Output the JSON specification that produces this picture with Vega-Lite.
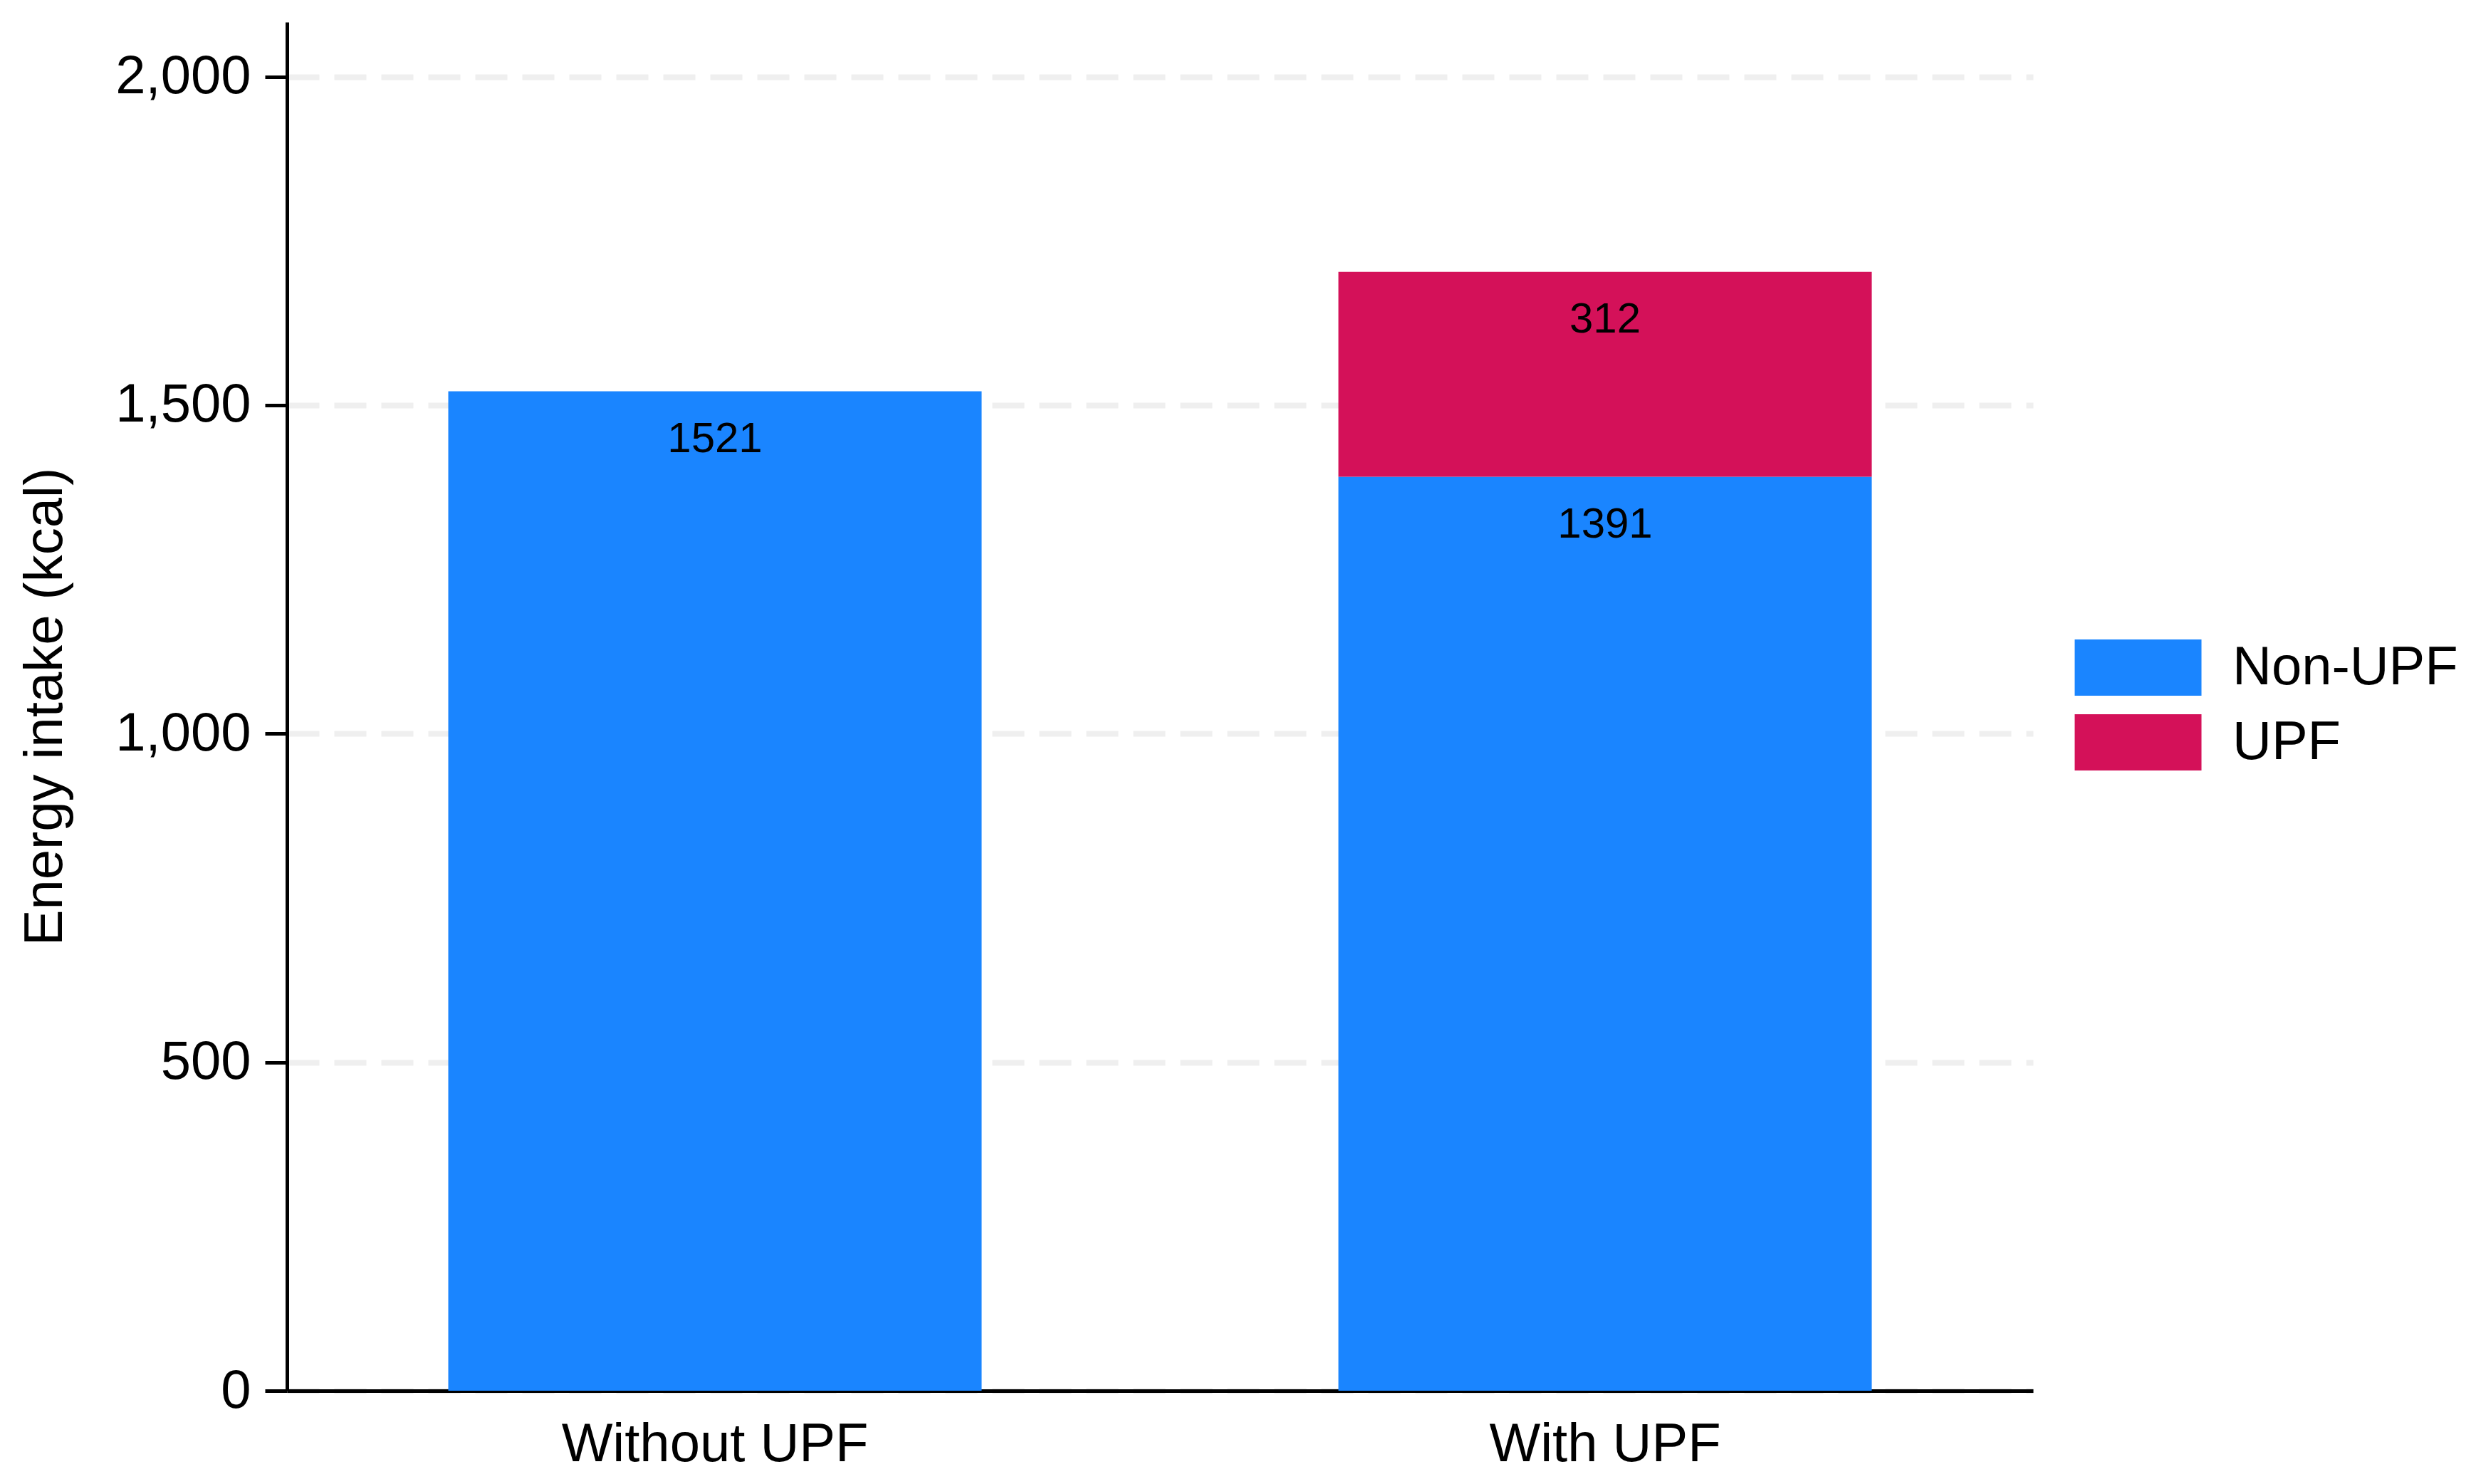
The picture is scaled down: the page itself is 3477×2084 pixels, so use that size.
{
  "$schema": "https://vega.github.io/schema/vega-lite/v6.json",
  "width": 2452,
  "height": 1922,
  "autosize": {"type": "none"},
  "padding": {"left": 403, "top": 31, "right": 622, "bottom": 131},
  "background": "white",
  "config": {
    "view": {"stroke": null},
    "font": "Liberation Sans",
    "axis": {"domainColor": "black", "tickColor": "black", "labelColor": "black", "titleColor": "black", "labelFont": "Liberation Sans", "titleFont": "Liberation Sans", "titleFontWeight": "normal", "labelLimit": 1000}
  },
  "data": {
    "values": [
      {"group": "Without UPF", "component": "Non-UPF", "kcal": 1521},
      {"group": "With UPF", "component": "Non-UPF", "kcal": 1391},
      {"group": "With UPF", "component": "UPF", "kcal": 312}
    ]
  },
  "transform": [
    {"stack": "kcal", "groupby": ["group"], "sort": [{"field": "component", "order": "ascending"}], "as": ["y0", "y1"]}
  ],
  "encoding": {
    "x": {
      "field": "group",
      "type": "nominal",
      "sort": ["Without UPF", "With UPF"],
      "scale": {"paddingInner": 0.4008, "paddingOuter": 0.1812},
      "axis": {
        "title": null,
        "labelAngle": 0,
        "labelFontSize": 76,
        "labelPadding": 38,
        "ticks": false,
        "domainWidth": 5,
        "grid": false
      }
    }
  },
  "layer": [
    {
      "mark": {"type": "bar"},
      "encoding": {
        "y": {
          "field": "y1",
          "type": "quantitative",
          "scale": {"domain": [0, 2083], "nice": false},
          "axis": {
            "title": "Energy intake (kcal)",
            "titleFontSize": 76,
            "titleX": -317,
            "titleBaseline": "alphabetic",
            "values": [0, 500, 1000, 1500, 2000],
            "format": ",.0f",
            "labelFontSize": 76,
            "labelPadding": 20,
            "tickSize": 31,
            "tickWidth": 5,
            "domainWidth": 5,
            "grid": true,
            "gridColor": "#efefef",
            "gridWidth": 8,
            "gridDash": [45, 21]
          }
        },
        "y2": {"field": "y0"},
        "color": {
          "field": "component",
          "type": "nominal",
          "scale": {"domain": ["Non-UPF", "UPF"], "range": ["#1A85FF", "#D41159"]},
          "legend": {
            "title": null,
            "orient": "none",
            "legendX": 2555,
            "legendY": 862,
            "padding": 0,
            "symbolType": "M-2,-0.888H2V0.888H-2Z",
            "symbolSize": 7921,
            "symbolStrokeWidth": 0,
            "symbolOpacity": 1,
            "labelFontSize": 76,
            "labelFont": "Liberation Sans",
            "labelColor": "black",
            "labelLimit": 1000,
            "labelOffset": 88,
            "rowPadding": 20
          }
        }
      }
    },
    {
      "mark": {"type": "text", "fontSize": 60, "baseline": "alphabetic", "dy": 85, "color": "black", "font": "Liberation Sans"},
      "encoding": {
        "y": {"field": "y1", "type": "quantitative"},
        "text": {"field": "kcal", "type": "quantitative", "format": "d"}
      }
    }
  ]
}
